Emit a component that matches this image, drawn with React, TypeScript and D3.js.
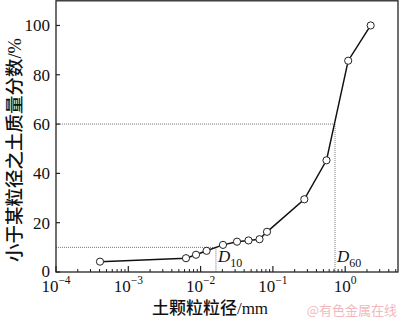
import React from "react";
import * as d3 from "d3";

const sizes = [0.000406, 0.00628, 0.00864, 0.0121, 0.0204, 0.0319, 0.046, 0.0653, 0.0829, 0.272, 0.551, 1.1, 2.25];
const passing = [4.2, 5.6, 7.0, 8.6, 11.0, 12.3, 12.8, 13.3, 16.3, 29.5, 45.3, 85.7, 100];
const yTicks = [0, 20, 40, 60, 80, 100];
const xMajorExps = [-4, -3, -2, -1, 0];
const d10 = 0.0163;
const d60 = 0.723;
const refLines = [
  { v: 10, d: d10, label: "10" },
  { v: 60, d: d60, label: "60" },
];

const W = 400;
const H = 319;
const L = 56;
const R = 398;
const T = 0.8;
const B = 272;

const serif = "'Liberation Serif', 'Times New Roman', serif";
const cjk = "'Noto Sans CJK SC', sans-serif";

export default function App() {
  const x = d3.scaleLog().domain([1e-4, Math.pow(10, (R - L) / 72.3 - 4)]).range([L, R]);
  const y = d3.scaleLinear().domain([0, 110]).range([B, T]);
  const line = d3
    .line<number>()
    .x((_, i) => x(sizes[i]))
    .y((v) => y(v));

  const [xmin, xmax] = x.domain();
  const minor: number[] = [];
  for (let e = -4; e <= 1; e++) {
    for (let k = 2; k <= 9; k++) {
      const v = k * Math.pow(10, e);
      if (v > xmin && v < xmax) minor.push(v);
    }
  }

  return (
    <svg width={W} height={H} style={{ position: "absolute", left: 0, top: 0, background: "#fff" }}>
      <rect x={0} y={0} width={W} height={H} fill="#fff" />
      {refLines.map((r) => (
        <g key={r.label} stroke="#777" strokeWidth={1} strokeDasharray="1,1" fill="none">
          <line x1={L} x2={x(r.d)} y1={y(r.v)} y2={y(r.v)} />
          <line x1={x(r.d)} x2={x(r.d)} y1={y(r.v)} y2={B} />
        </g>
      ))}
      {refLines.map((r) => (
        <text key={"t" + r.label} x={x(r.d) + 2} y={262} fontFamily={serif} fontSize={17} fill="#111">
          <tspan fontStyle="italic">D</tspan>
          <tspan fontSize={12} dy={4.5}>{r.label}</tspan>
        </text>
      ))}
      <rect x={L} y={T} width={R - L} height={B - T} fill="none" stroke="#222" strokeWidth={1.3} />
      {yTicks.map((t) => (
        <g key={"y" + t}>
          <line x1={L} x2={L + 4} y1={y(t)} y2={y(t)} stroke="#222" strokeWidth={1.2} />
          <text x={L - 6} y={y(t) + (t === 0 ? 5 : 6)} textAnchor="end" fontFamily={serif} fontSize={17} fill="#111">
            {t}
          </text>
        </g>
      ))}
      {xMajorExps.map((e) => {
        const px = x(Math.pow(10, e));
        return (
          <g key={"x" + e}>
            <line x1={px} x2={px} y1={B} y2={B - 6} stroke="#222" strokeWidth={1.2} />
            <text x={px} y={292} textAnchor="middle" fontFamily={serif} fontSize={17} fill="#111">
              10
              <tspan fontSize={11.5} dy={-8}>
                {e < 0 ? "\u2212" + Math.abs(e) : String(e)}
              </tspan>
            </text>
          </g>
        );
      })}
      {minor.map((v, i) => (
        <line key={"m" + i} x1={x(v)} x2={x(v)} y1={B} y2={B - 3} stroke="#222" strokeWidth={1} />
      ))}
      <path d={line(passing) || ""} fill="none" stroke="#111" strokeWidth={1.5} />
      {passing.map((v, i) => (
        <circle key={"c" + i} cx={x(sizes[i])} cy={y(v)} r={3.6} fill="#fff" stroke="#222" strokeWidth={1} />
      ))}
      <text x={210} y={314} textAnchor="middle" fontSize={17} fill="#111">
        <tspan fontFamily={cjk} fontWeight={500}>土颗粒粒径</tspan>
        <tspan fontFamily={serif}>/mm</tspan>
      </text>
      <text transform="translate(21,150) rotate(-90)" textAnchor="middle" fontSize={18.5} fill="#111">
        <tspan fontFamily={cjk} fontWeight={500}>小于某粒径之土质量分数</tspan>
        <tspan fontFamily={serif}>/%</tspan>
      </text>
      <text x={397} y={315} textAnchor="end" fontFamily={cjk} fontSize={13} fill="#f2b9bd">
        @有色金属在线
      </text>
    </svg>
  );
}
